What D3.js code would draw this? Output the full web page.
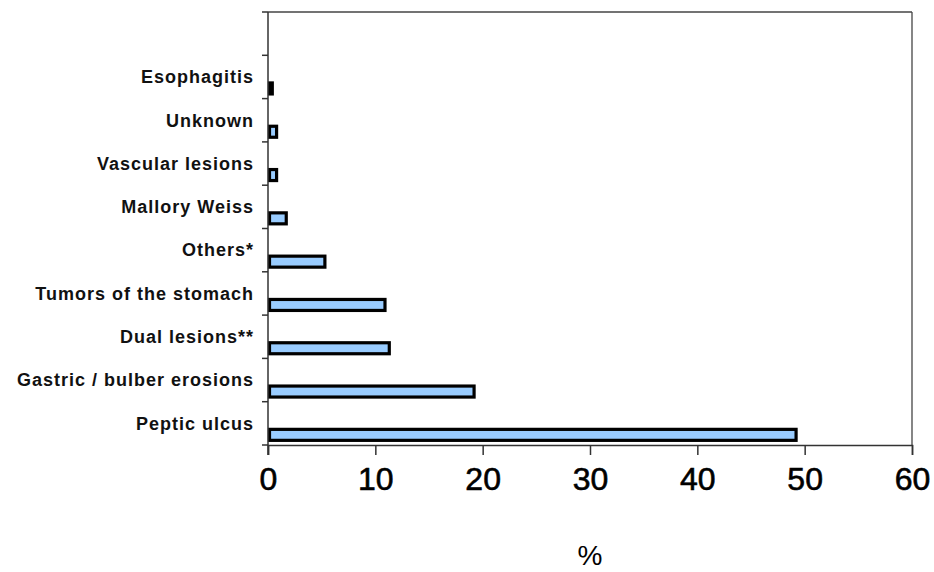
<!DOCTYPE html>
<html>
<head>
<meta charset="utf-8">
<script src="https://cdn.jsdelivr.net/npm/d3@7"></script>
<style>
  html, body { margin: 0; padding: 0; background: #fff; }
  svg { display: block; }
</style>
</head>
<body>
<svg id="chart" width="934" height="572"></svg>
<script>
// Causes of upper GI bleeding, share of cases (%)
const categories = [
  "", "Esophagitis", "Unknown", "Vascular lesions", "Mallory Weiss", "Others*",
  "Tumors of the stomach", "Dual lesions**", "Gastric / bulber erosions", "Peptic ulcus"
];
const values = [null, 0.4, 0.8, 0.8, 1.7, 5.3, 10.9, 11.3, 19.2, 49.2];
const xTicks = [0, 10, 20, 30, 40, 50, 60];
const xTitle = "%";

const svg = d3.select("#chart");
const plotLeft = 268, plotRight = 912, plotTop = 12, plotBottom = 445;

const x = d3.scaleLinear().domain([0, 60]).range([plotLeft, plotRight]);
const y = d3.scaleBand().domain(categories).range([plotTop, plotBottom]);

const g = svg.append("g");

// frame lines on top and right side of the plot area
g.append("line").attr("x1", plotLeft).attr("x2", plotRight).attr("y1", plotTop).attr("y2", plotTop)
  .attr("stroke", "#444").attr("stroke-width", 1.3);
g.append("line").attr("x1", plotRight).attr("x2", plotRight).attr("y1", plotTop).attr("y2", plotBottom)
  .attr("stroke", "#444").attr("stroke-width", 1.3);

// bars
const data = categories.map((c, i) => ({ c, v: values[i] })).filter(d => d.v != null);
const barH = 11;
g.selectAll("rect.bar").data(data).enter().append("rect")
  .attr("class", "bar")
  .attr("x", x(0) + 1.5)
  .attr("y", d => y(d.c) + y.bandwidth() / 2 + 11.5 - barH / 2)
  .attr("width", d => Math.max(x(d.v) - x(0) - 1.5, 0))
  .attr("height", barH)
  .attr("fill", "#99ccff")
  .attr("stroke", "#000")
  .attr("stroke-width", 3.2);

// y axis: ticks at category boundaries
const yBoundaries = categories.map(c => y(c)).concat([plotBottom]);
g.append("line").attr("x1", plotLeft).attr("x2", plotLeft).attr("y1", plotTop).attr("y2", plotBottom + 10)
  .attr("stroke", "#333").attr("stroke-width", 1.5);
g.selectAll("line.ytick").data(yBoundaries).enter().append("line")
  .attr("class", "ytick")
  .attr("x1", plotLeft - 6).attr("x2", plotLeft)
  .attr("y1", d => d).attr("y2", d => d)
  .attr("stroke", "#333").attr("stroke-width", 1.5);

// category labels
g.selectAll("text.cat").data(categories.filter(c => c !== "")).enter().append("text")
  .attr("class", "cat")
  .attr("x", 254)
  .attr("y", d => y(d) + y.bandwidth() / 2)
  .attr("dy", "0.35em")
  .attr("text-anchor", "end")
  .attr("font-family", "Liberation Sans, Arial, sans-serif")
  .attr("font-weight", "bold")
  .attr("font-size", 18)
  .attr("letter-spacing", 1)
  .attr("fill", "#111")
  .text(d => d);

// x axis
const xAxis = d3.axisBottom(x).tickValues(xTicks).tickSize(10).tickPadding(12).tickFormat(d3.format("d"));
const xa = g.append("g").attr("transform", `translate(0,${plotBottom})`).call(xAxis);
xa.select(".domain").attr("stroke", "#333").attr("stroke-width", 1.5);
xa.selectAll(".tick line").attr("stroke", "#333").attr("stroke-width", 1.5);
xa.selectAll(".tick text")
  .attr("font-family", "Liberation Sans, Arial, sans-serif")
  .attr("font-size", 32)
  .attr("stroke", "#000")
  .attr("stroke-width", 0.6)
  .attr("fill", "#000");

// axis title
g.append("text")
  .attr("x", x(30))
  .attr("y", 565)
  .attr("text-anchor", "middle")
  .attr("font-family", "Liberation Sans, Arial, sans-serif")
  .attr("font-size", 28)
  .attr("fill", "#000")
  .text(xTitle);
</script>
</body>
</html>
